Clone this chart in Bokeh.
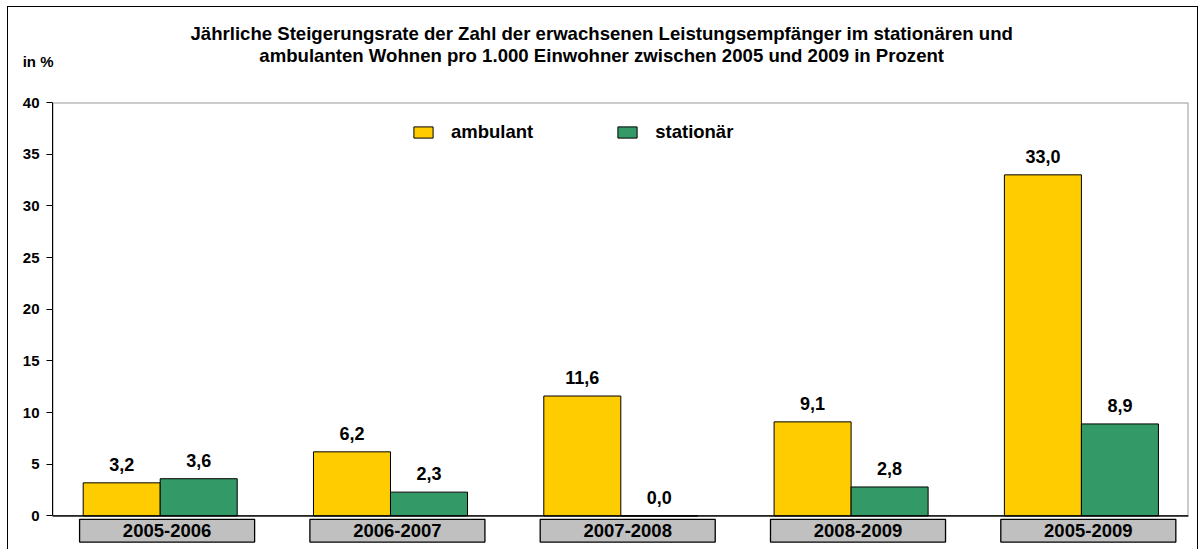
from bokeh.plotting import figure
from bokeh.models import (Range1d, Span, BoxAnnotation, Legend, LegendItem,
                          ColumnDataSource, FixedTicker, Div)
from bokeh.layouts import column
from bokeh.transform import dodge
from bokeh.core.properties import value
from bokeh.embed import file_html
from bokeh.resources import INLINE

# ---- data ----
categories = ["2005-2006", "2006-2007", "2007-2008", "2008-2009", "2005-2009"]
ambulant = [3.2, 6.2, 11.6, 9.1, 33.0]
stationaer = [3.6, 2.3, 0.0, 2.8, 8.9]
y_ticks = [0, 5, 10, 15, 20, 25, 30, 35, 40]
series_names = ["ambulant", "stationär"]
title_lines = [
    "Jährliche Steigerungsrate der Zahl der erwachsenen Leistungsempfänger im stationären und",
    "ambulanten Wohnen pro 1.000 Einwohner zwischen 2005 und 2009 in Prozent",
]
unit_label = "in %"

FONT = "Liberation Sans"
YELLOW = "#FFCC00"
GREEN = "#339966"


def fmt(v):
    return f"{v:.1f}".replace(".", ",")


src = ColumnDataSource(dict(
    x=list(range(len(categories))),
    cat=categories,
    amb=ambulant,
    sta=stationaer,
    amb_lbl=[fmt(v) for v in ambulant],
    sta_lbl=[fmt(v) for v in stationaer],
))

W = 1189
p = figure(width=W, height=457, output_backend="svg", toolbar_location=None,
           x_range=Range1d(-0.4676, 4.465), y_range=Range1d(-3.25, 40),
           x_axis_location=None, min_border_left=44, min_border_right=9,
           min_border_top=10, min_border_bottom=0)
p.xgrid.visible = False
p.ygrid.visible = False
p.outline_line_color = None
p.background_fill_color = "white"
p.border_fill_color = "white"

# plot-area border (gray) for 0..40
p.add_layout(BoxAnnotation(bottom=0, top=40, fill_alpha=0, line_color="#999999",
                           line_alpha=1, line_width=2, level="underlay"))

bw = 0.3344
off = bw / 2
r_amb = p.vbar(x=dodge("x", -off), top="amb", width=bw, source=src,
               fill_color=YELLOW, line_color="black", line_width=1)
r_sta = p.vbar(x=dodge("x", off), top="sta", width=bw, source=src,
               fill_color=GREEN, line_color="black", line_width=1)

# zero line
p.add_layout(Span(location=0, dimension="width", line_color="black", line_width=1.2))

# value labels
for col, lcol, o in [("amb", "amb_lbl", -off), ("sta", "sta_lbl", off)]:
    p.text(x=dodge("x", o), y=col, text=lcol, source=src, text_align="center",
           text_baseline="middle", y_offset=-18.5, text_font=value(FONT),
           text_font_style="bold", text_font_size="18px", text_color="black")

# category label boxes
p.rect(x=dodge("x", 0.03), y=-1.43, width=0.76, height=2.2, source=src,
       fill_color="#C0C0C0", line_color="black", line_width=1.3)
p.text(x=dodge("x", 0.03), y=-1.43, text="cat", source=src, text_align="center",
       text_baseline="middle", text_font=value(FONT), text_font_style="bold",
       text_font_size="18.5px", text_color="black")

# y axis
ax = p.yaxis[0]
ax.ticker = FixedTicker(ticks=y_ticks)
ax.bounds = (0, 40)
ax.major_tick_out = 6
ax.major_tick_in = 0
ax.minor_tick_line_color = None
ax.axis_line_color = "black"
ax.major_tick_line_color = "black"
ax.major_label_standoff = 7
ax.major_label_text_font = FONT
ax.major_label_text_font_style = "bold"
ax.major_label_text_font_size = "15px"
ax.major_label_text_color = "black"

legend = Legend(items=[LegendItem(label=series_names[0], renderers=[r_amb]),
                       LegendItem(label=series_names[1], renderers=[r_sta])],
                location=(359, 406), orientation="horizontal", glyph_width=24,
                glyph_height=14, label_standoff=16, spacing=82, padding=0, margin=0,
                border_line_color=None, background_fill_alpha=0, label_height=20,
                label_text_font=FONT, label_text_font_style="bold",
                label_text_font_size="18.5px", label_text_color="black")
p.add_layout(legend)

span_style = ("position:absolute;white-space:nowrap;line-height:1;"
              "transform:translate({tx},-50%);left:{x}px;top:{y}px;font-size:{fs}px;")
title_html = (
    f'<div style="position:relative;width:{W}px;height:85px;font-family:\'{FONT}\';'
    f'font-weight:bold;color:black;">'
    f'<span style="{span_style.format(tx="-50%", x=593.7, y=27, fs=18.6)}">{title_lines[0]}</span>'
    f'<span style="{span_style.format(tx="-50%", x=593.7, y=49, fs=18.6)}">{title_lines[1]}</span>'
    f'<span style="{span_style.format(tx="0", x=14.7, y=54, fs=15)}">{unit_label}</span>'
    f'</div>'
)
title_div = Div(text=title_html, width=W, height=85, margin=0)

layout = column(title_div, p, spacing=0)
layout.styles = {"border-left": "1px solid black", "border-top": "1px solid black",
                 "border-right": "1px solid black", "margin-left": "7px",
                 "margin-top": "6px", "background-color": "white"}

open("out.html", "w").write(file_html(layout, INLINE))
